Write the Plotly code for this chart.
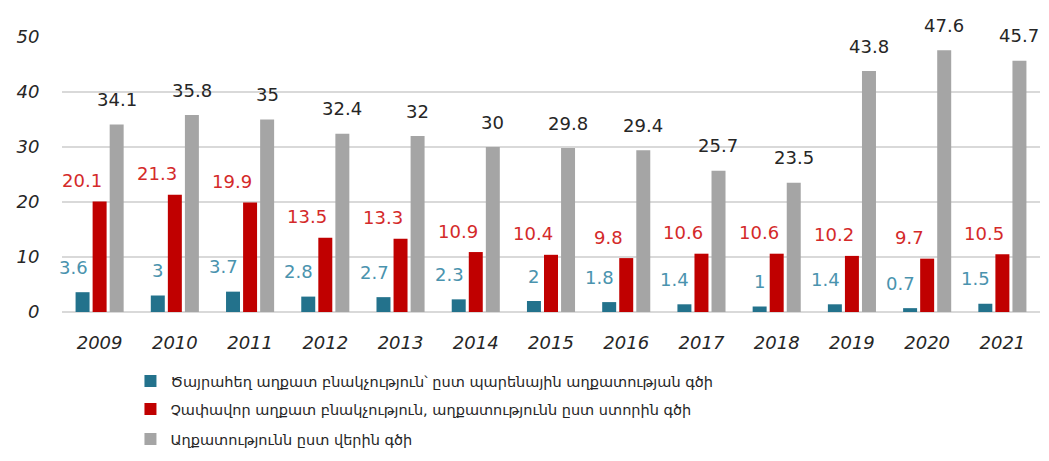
import plotly.graph_objects as go

years = ["2009", "2010", "2011", "2012", "2013", "2014", "2015", "2016", "2017", "2018", "2019", "2020", "2021"]
extreme = [3.6, 3, 3.7, 2.8, 2.7, 2.3, 2, 1.8, 1.4, 1, 1.4, 0.7, 1.5]
poor = [20.1, 21.3, 19.9, 13.5, 13.3, 10.9, 10.4, 9.8, 10.6, 10.6, 10.2, 9.7, 10.5]
upper = [34.1, 35.8, 35, 32.4, 32, 30, 29.8, 29.4, 25.7, 23.5, 43.8, 47.6, 45.7]

names = [
    "Ծայրահեղ աղքատ բնակչություն՝ ըստ պարենային աղքատության գծի",
    "Չափավոր աղքատ բնակչություն, աղքատությունն ըստ ստորին գծի",
    "Աղքատությունն ըստ վերին գծի",
]
colors = ["#23728C", "#C00000", "#A5A5A5"]
label_colors = ["#4A93AE", "#D42A2A", "#262626"]
legend_ids = ["legend", "legend2", "legend3"]
FONT = "DejaVu Sans"

fig = go.Figure()
for vals, name, col, lg in zip([extreme, poor, upper], names, colors, legend_ids):
    fig.add_trace(go.Bar(x=years, y=vals, name=name, marker_color=col,
                         marker_line_width=0, legend=lg))

annos = []
specs = [(extreme, -10, "right", 25), (poor, -18, "center", 21), (upper, 17, "center", 25)]
for (vals, xs, anch, ys), lc in zip(specs, label_colors):
    for i, v in enumerate(vals):
        annos.append(dict(x=i, xref="x", y=v, yref="y", text=f"{v:g}", showarrow=False,
                          xshift=xs, yshift=ys, xanchor=anch, yanchor="middle",
                          font=dict(family=FONT, size=18, color=lc)))

leg_common = dict(orientation="v", x=0.07, xanchor="left", yanchor="middle",
                  font=dict(family=FONT, size=14.5, color="#262626"),
                  itemwidth=30, bgcolor="rgba(0,0,0,0)")

fig.update_layout(
    width=1049, height=461,
    margin=dict(l=54, r=17, t=29, b=157),
    paper_bgcolor="white", plot_bgcolor="white",
    barmode="group", bargap=0.32, bargroupgap=0.18,
    font=dict(family=FONT, color="#262626"),
    annotations=annos,
    showlegend=True,
    legend=dict(leg_common, y=-0.251),
    legend2=dict(leg_common, y=-0.353),
    legend3=dict(leg_common, y=-0.462),
    xaxis=dict(type="category", range=[-0.5, len(years) - 0.5], autorange=False,
               showgrid=False, showline=False, ticks="outside", ticklen=14,
               tickcolor="rgba(0,0,0,0)", automargin=False,
               tickfont=dict(family=FONT, size=18, color="#262626", style="italic")),
    yaxis=dict(range=[0, 50], autorange=False, dtick=10, showgrid=True, gridcolor="#D9D9D9",
               gridwidth=1.5, zeroline=True, zerolinecolor="#D9D9D9", zerolinewidth=1.5,
               ticks="outside", ticklen=18, tickcolor="rgba(0,0,0,0)", automargin=False,
               tickfont=dict(family=FONT, size=18, color="#262626", style="italic")),
)

fig.write_html("out.html")
